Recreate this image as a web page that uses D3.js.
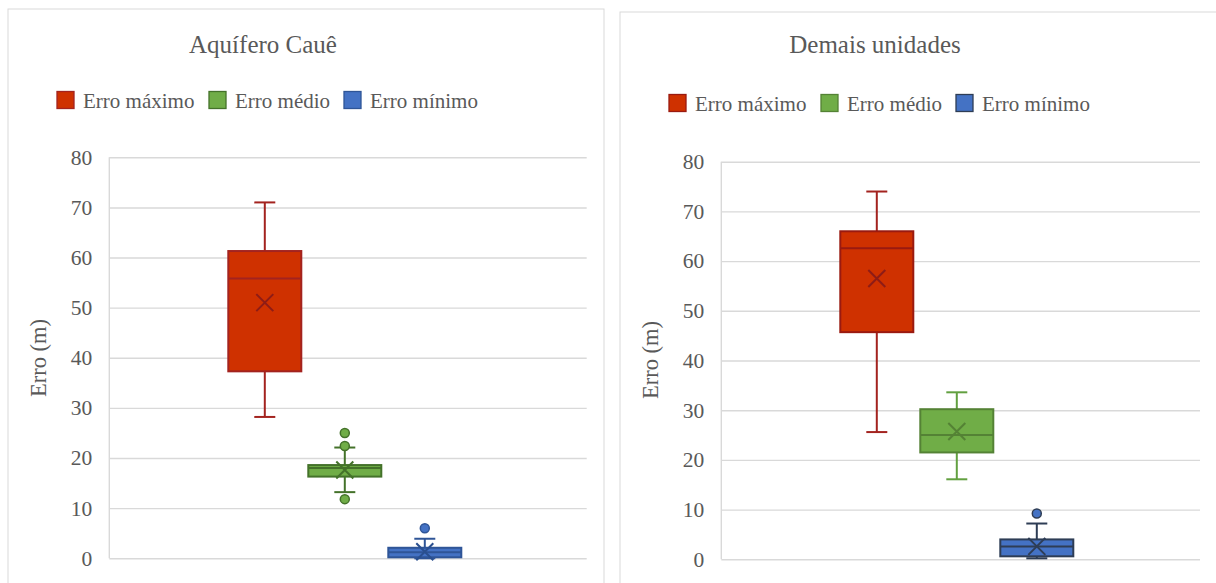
<!DOCTYPE html>
<html>
<head>
<meta charset="utf-8">
<script src="https://cdn.jsdelivr.net/npm/d3@7"></script>
<style>
  body { margin: 0; background: #ffffff; }
  svg { display: block; }
</style>
</head>
<body>
<svg id="chart" width="1216" height="583"></svg>
<script>
// ---------- DATA ----------
const seriesNames = ["Erro máximo", "Erro médio", "Erro mínimo"];
const yTicks = [0, 10, 20, 30, 40, 50, 60, 70, 80];
const yTitle = "Erro (m)";

// Aquífero Cauê
const caueTitle = "Aquífero Cauê";
const caueMin = [28.2, 13.2, 0.0];
const caueQ1 = [37.3, 16.3, 0.2];
const caueMedian = [55.8, 18.0, 1.2];
const caueQ3 = [61.3, 18.6, 2.1];
const caueMax = [71.0, 22.1, 3.9];
const caueMean = [51.0, 17.6, 1.3];
const caueOutliers = [[], [25.0, 22.4, 11.8], [6.0]];

// Demais unidades
const demTitle = "Demais unidades";
const demMin = [25.6, 16.1, 0.2];
const demQ1 = [45.7, 21.5, 0.6];
const demMedian = [62.6, 25.0, 2.6];
const demQ3 = [66.0, 30.2, 4.0];
const demMax = [74.0, 33.6, 7.2];
const demMean = [56.5, 25.7, 2.6];
const demOutliers = [[], [], [9.2]];

// ---------- STYLE ----------
const FONT = "'Liberation Serif', 'Times New Roman', Times, Tinos, 'Noto Serif', 'DejaVu Serif', serif";
const fills = ["#CF3100", "#70AD47", "#4472C4"];
const leftStyle = {
  stroke: ["#a3231f", "#44722a", "#2F5597"],
  whisker: ["#a3231f", "#44722a", "#2F5597"],
  mean: ["#8e1c16", "#44722a", "#2a4f8f"]
};
const rightStyle = {
  stroke: ["#9a1a10", "#548235", "#2e3d55"],
  whisker: ["#a3231f", "#62a040", "#2e3d55"],
  mean: ["#8e1c16", "#548235", "#2e3d55"]
};

const svg = d3.select("#chart");
svg.append("rect").attr("width", 1216).attr("height", 583).attr("fill", "#fff");

function txt(sel, size) {
  return sel.attr("font-family", FONT).style("font-family", FONT)
    .style("font-size", size + "px").attr("fill", "#595959");
}

function drawPanel(cfg) {
  const g = svg.append("g");
  g.append("rect")
    .attr("x", cfg.px).attr("y", cfg.py)
    .attr("width", cfg.pw).attr("height", 700)
    .attr("fill", "#fff").attr("stroke", "#d9d9d9").attr("stroke-width", 1);

  txt(g.append("text")
    .attr("x", cfg.titleX).attr("y", cfg.titleY)
    .attr("text-anchor", "middle"), 25)
    .text(cfg.title);

  const lg = g.append("g");
  const legendOffsets = [0, 152, 287];
  seriesNames.forEach((name, i) => {
    const x0 = cfg.legendX + legendOffsets[i];
    lg.append("rect")
      .attr("x", x0).attr("y", cfg.legendY - 8.5)
      .attr("width", 17).attr("height", 17)
      .attr("fill", fills[i]).attr("stroke", cfg.style.stroke[i]).attr("stroke-width", 1.3);
    txt(lg.append("text")
      .attr("x", x0 + 26).attr("y", cfg.legendY + 7.5), 21)
      .text(name);
  });

  const y = d3.scaleLinear().domain([0, 80]).range([cfg.y0, cfg.y80]);
  const x = d3.scaleBand().domain(seriesNames)
    .range([cfg.plotL + 119, cfg.plotL + 352])
    .paddingInner(0.0875).paddingOuter(0);

  const grid = g.append("g")
    .attr("transform", `translate(${cfg.plotL},0)`)
    .call(d3.axisLeft(y).tickValues(yTicks).tickSize(-(cfg.plotR - cfg.plotL)).tickFormat(""));
  grid.select(".domain").remove();
  grid.selectAll(".tick line").attr("stroke", "#d9d9d9").attr("stroke-width", 1.4);

  g.append("line")
    .attr("x1", cfg.plotL).attr("x2", cfg.plotL)
    .attr("y1", y(80)).attr("y2", y(0))
    .attr("stroke", "#d9d9d9").attr("stroke-width", 1.4);

  const ax = g.append("g")
    .attr("transform", `translate(${cfg.plotL - 17},0)`)
    .call(d3.axisLeft(y).tickValues(yTicks).tickSize(0).tickPadding(0));
  ax.attr("font-family", FONT);
  ax.select(".domain").remove();
  txt(ax.selectAll("text"), 21.5);

  txt(g.append("text")
    .attr("transform", `translate(${cfg.yTitleX},${cfg.yTitleY}) rotate(-90)`)
    .attr("text-anchor", "middle")
    .attr("dominant-baseline", "central"), 22.5)
    .text(yTitle);

  const bw = x.bandwidth();
  const capW = 21;
  seriesNames.forEach((name, i) => {
    const cx = x(name) + bw / 2;
    const st = cfg.style;
    const bg = g.append("g");
    bg.append("line").attr("x1", cx).attr("x2", cx)
      .attr("y1", y(cfg.max[i])).attr("y2", y(cfg.q3[i]))
      .attr("stroke", st.whisker[i]).attr("stroke-width", 2);
    bg.append("line").attr("x1", cx).attr("x2", cx)
      .attr("y1", y(cfg.q1[i])).attr("y2", y(cfg.min[i]))
      .attr("stroke", st.whisker[i]).attr("stroke-width", 2);
    [cfg.max[i], cfg.min[i]].forEach(v => {
      bg.append("line").attr("x1", cx - capW / 2).attr("x2", cx + capW / 2)
        .attr("y1", y(v)).attr("y2", y(v))
        .attr("stroke", st.whisker[i]).attr("stroke-width", 2);
    });
    bg.append("rect")
      .attr("x", x(name)).attr("width", bw)
      .attr("y", y(cfg.q3[i])).attr("height", y(cfg.q1[i]) - y(cfg.q3[i]))
      .attr("fill", fills[i]).attr("stroke", st.stroke[i]).attr("stroke-width", 2);
    bg.append("line")
      .attr("x1", x(name)).attr("x2", x(name) + bw)
      .attr("y1", y(cfg.median[i])).attr("y2", y(cfg.median[i]))
      .attr("stroke", st.stroke[i]).attr("stroke-width", 2);
    const my = y(cfg.mean[i]);
    const s = 8.5;
    bg.append("path")
      .attr("d", `M${cx - s},${my - s}L${cx + s},${my + s}M${cx - s},${my + s}L${cx + s},${my - s}`)
      .attr("stroke", st.mean[i]).attr("stroke-width", 2).attr("fill", "none");
    cfg.outliers[i].forEach(v => {
      bg.append("circle")
        .attr("cx", cx).attr("cy", y(v)).attr("r", 4.5)
        .attr("fill", fills[i]).attr("stroke", st.stroke[i]).attr("stroke-width", 1.5);
    });
  });
}

drawPanel({
  px: 8, py: 9, pw: 596,
  title: caueTitle, titleX: 263, titleY: 53,
  legendX: 57, legendY: 100,
  plotL: 109.3, plotR: 586.7, y0: 558.3, y80: 157.3,
  yTitleX: 38, yTitleY: 358,
  min: caueMin, q1: caueQ1, median: caueMedian, q3: caueQ3, max: caueMax,
  mean: caueMean, outliers: caueOutliers, style: leftStyle
});

drawPanel({
  px: 620, py: 12, pw: 620,
  title: demTitle, titleX: 875, titleY: 53,
  legendX: 669, legendY: 103,
  plotL: 721.3, plotR: 1200, y0: 559.3, y80: 161.7,
  yTitleX: 650, yTitleY: 360,
  min: demMin, q1: demQ1, median: demMedian, q3: demQ3, max: demMax,
  mean: demMean, outliers: demOutliers, style: rightStyle
});
</script>
</body>
</html>
